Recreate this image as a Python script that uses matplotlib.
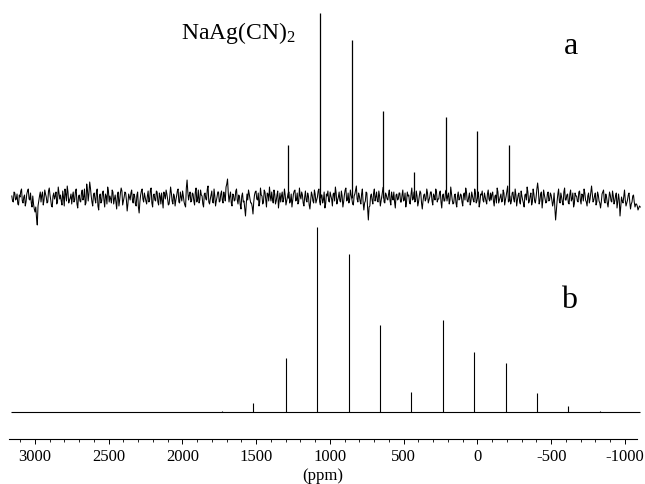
import matplotlib
matplotlib.use("Agg")
import matplotlib.pyplot as plt
from matplotlib.ticker import MultipleLocator
import numpy as np

plt.rcParams["font.family"] = ["Liberation Serif", "DejaVu Serif"]
plt.rcParams["mathtext.fontset"] = "custom"
plt.rcParams["mathtext.rm"] = "Liberation Serif"
plt.rcParams["mathtext.it"] = "Liberation Serif:italic"
plt.rcParams["axes.unicode_minus"] = False

# experimental spectrum (a): spinning sideband positions (ppm) and intensities
peaks_a_ppm = [1283, 1068, 851, 643, 433, 214, 3, -212]
peaks_a_int = [53, 185, 158, 87, 26, 81, 67, 53]

# simulated spectrum (b)
peaks_b_ppm = [1734, 1520, 1300, 1090, 871, 661, 449, 236, 22, -191, -401, -616, -831]
peaks_b_int = [1, 9, 54, 185, 158, 87, 20, 92, 60, 49, 19, 6, 1.5]

# baseline noise of spectrum (a) from left to right
noise_a = [
    2, -4, 5, -1, -6, 3, 7, -3, 1, -8, 4, 9, -2, -5, 2, -11, -9, -27, -3, 6,
    3, -7, 8, 1, -4, 10, -2, -9, 5, 2, -6, 11, -1, -3, 7, -8, 4, 12, -5, 0,
    -6, 6, -2, 9, -10, 3, -4, 8, 1, -7, 14, -3, 16, 2, -8, 5, -5, 9, -12, 4,
    -3, 7, -9, 2, 11, -4, -1, 8, -6, 3, -11, 6, -2, 10, -7, 1, 5, -13, 4, -2,
    8, -5, 2, -8, 6, -15, 3, 9, -4, 1, -6, 7, -2, 10, -9, 4, -3, 6, -7, 2,
    5, -10, 3, 8, -1, -6, 11, -3, 4, -8, 2, 9, -5, 1, 7, -4, -9, 18, -2, 6,
    -3, 4, -7, 10, -1, -5, 8, 2, -9, 5, -2, 12, -6, 3, -4, 9, -8, 1, 6, -3,
    7, -5, 2, 11, 19, -4, 6, -8, 3, -2, 9, -6, 1, -11, 5, -3, -18, 4, 8, -1,
    -5, -16, 3, 7, -2, -8, 10, 2, -4, 6, -9, 4, 11, -3, -1, 8, -6, 3, -10, 5,
    2, -4, 9, -7, 1, 6, -3, -9, 4, 8, -2, -6, 10, -1, 3, -8, 7, -4, 2, -11,
    6, -3, 8, -5, 1, 9, -7, 3, -2, -10, 4, 7, -4, 2, -8, 5, 11, -6, 1, -3,
    7, -9, 3, 10, -2, -5, 8, -1, -7, 4, 12, -4, 2, -6, 9, -12, -3, 5, -22, -8,
    4, -6, 9, 1, -3, 7, -8, 2, 11, -5, 3, -2, 8, -7, 1, 6, -10, 4, -1, 5,
    -4, 8, -2, -9, 6, 3, -6, 10, -1, -4, 7, -8, 2, 5, -11, 3, -3, 9, -5, 1,
    6, -7, 2, 9, -4, -1, 7, -10, 4, -3, 8, 2, -6, 11, -2, -5, 4, -9, 6, -1,
    3, -8, 5, 10, -3, 1, -7, 6, -2, 9, -5, 2, -9, 4, 7, -4, 1, -6, 8, -3,
    -2, 6, -8, 3, 10, -5, 1, -4, 8, -7, 2, 12, -3, -6, 5, -1, 9, -8, 3, -4,
    7, -2, -9, 4, 11, -5, 2, -7, 9, -3, 1, 15, -6, 4, -10, 8, -1, -4, 6, -2,
    3, -8, 5, -22, -3, 9, -5, 1, -7, 10, -2, 4, -6, 8, -1, -9, 5, 2, -4, 7,
    -6, 3, 9, -2, -8, 5, -1, 12, -4, 2, -7, 6, -3, -10, 4, 8, -5, 1, -9, 6,
    -3, 7, -6, 2, -10, 4, -18, 1, -5, 8, -8, -2, 5, -11, -4, 3, -9, -6, -12, -8,
]
# samples in between the ones above
noise_a_mid = [
    -3, 6, -2, 4, -7, 1, 9, -5, 3, -4, 7, -1, 5, -9, -6, -14, -20, -8, 2, -4,
    6, -2, 4, -5, 7, 3, -8, 2, -1, 6, -4, 5, 3, -7, 1, 9, -3, 6, -2, 4,
    2, -4, 7, -6, 1, -3, 5, -2, 9, -5, 8, 5, 10, -4, 3, -1, 6, -8, 2, -5,
    5, -2, 4, -6, 7, 2, -5, 6, -1, -4, 3, -8, 5, 7, -3, 6, -2, -6, 1, 5,
    -2, 4, -6, 3, -9, -4, 7, -1, 5, -3, 2, -4, 8, -5, 3, -2, 7, -4, 5, -6,
    -3, 6, -1, 4, -7, 3, 5, -6, 2, -2, 7, -4, 6, -3, 2, -7, 10, 6, 3, -4,
    5, -3, 6, -4, 8, -2, 3, -6, 4, -1, 9, -4, -1, 7, -5, 2, -3, 6, -4, 4,
    -2, 6, -3, 14, 5, 2, -5, 4, -3, 7, -2, 3, -7, 2, -4, -10, -6, -2, 4, -5,
    -9, -4, 6, -1, 5, -4, 3, -6, 8, -2, 5, -3, 2, 6, -5, 4, -3, 7, -2, -4,
    6, -1, 3, -3, 5, -5, 4, -2, 7, -3, 5, -4, 2, 6, -5, 1, -2, 5, -7, -3,
    3, -5, 4, -2, 7, -4, 3, -5, 6, -6, 2, -3, 6, -1, 4, -3, 5, -2, 6, -4,
    2, -4, 8, -3, 5, -2, 3, -6, 2, 8, -1, 5, -3, 4, -4, -5, 6, -10, -9, 2,
    -2, 5, -3, 6, -4, 2, -3, 7, -4, 5, -1, 4, -3, 6, -2, -4, 3, -2, 5, -4,
    3, -3, 5, -4, 2, -5, 4, -2, 6, -3, 2, -4, 7, -5, -3, 4, -1, 5, -2, 6,
    -3, 4, -2, 6, -1, 5, -4, 2, -3, 6, -3, 5, -2, 4, -6, 3, -5, 2, -2, 4,
    -4, 3, -2, 6, -4, 5, -3, 2, -4, 5, -3, 6, -4, 3, -2, 5, -3, 4, -1, 5,
    4, -3, 2, -5, 6, -2, 4, -3, 5, -2, 7, -4, 2, -3, 6, -4, 3, -2, 5, -6,
    2, -5, 3, -2, 6, -3, 5, -4, 4, -5, 9, 8, -3, 6, -2, 3, -5, 4, -3, 5,
    -2, -4, -10, -12, 4, -3, 5, -4, 6, -2, 3, -5, 4, -3, 5, -6, 2, -3, 6, -2,
    4, -3, 5, -4, 2, -5, 6, 4, -2, 5, -4, 3, -5, -4, 6, -3, 4, -5, -2, 3,
    -4, 2, -3, 5, -4, -2, -8, -3, 2, -2, -5, 3, -4, -6, 2, -4, -6, -8, -10, -9,
]

# vertical offsets of the two traces (axis units above the ppm axis)
base_a = 241
base_b = 27

noise = np.empty(2 * len(noise_a))
noise[0::2] = noise_a
noise[1::2] = noise_a_mid

fig = plt.figure(figsize=(6.45, 4.85), dpi=100)
ax = fig.add_axes([9 / 645, 45 / 485, 628 / 645, 440 / 485])

x_noise = np.linspace(3156, -1104, len(noise))
ax.plot(x_noise, base_a + noise, color="black", lw=0.75, clip_on=False)
ax.vlines(peaks_a_ppm, base_a, base_a + np.array(peaks_a_int), color="black", lw=0.9)

ax.hlines(base_b, 3160, -1100, color="black", lw=0.8, clip_on=False)
ax.vlines(peaks_b_ppm, base_b, base_b + np.array(peaks_b_int), color="black", lw=0.8)

ax.set_xlim(3175, -1082)
ax.set_ylim(0, 440)

for side in ["top", "left", "right"]:
    ax.spines[side].set_visible(False)
ax.spines["bottom"].set_linewidth(0.8)
ax.set_yticks([])
ax.xaxis.set_major_locator(MultipleLocator(500))
ax.xaxis.set_minor_locator(MultipleLocator(100))
ax.tick_params(axis="x", which="major", direction="out", length=3.5, width=0.7,
               labelsize=12, pad=3)
ax.tick_params(axis="x", which="minor", direction="out", length=2, width=0.6)
ax.set_xlabel("(ppm)", fontsize=12, labelpad=2)

fig.text(238 / 645, 1 - 33 / 485, "NaAg(CN)$_2$", fontsize=17, ha="center", va="center")
fig.text(571 / 645, 1 - 47 / 485, "a", fontsize=23, ha="center", va="center")
fig.text(569 / 645, 1 - 300 / 485, "b", fontsize=23, ha="center", va="center")

fig.savefig("out.png", dpi=100)
